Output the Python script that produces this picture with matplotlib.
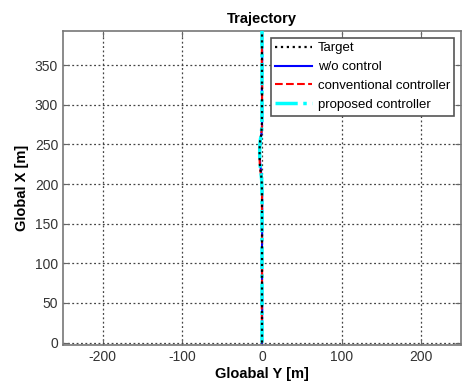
import matplotlib as mpl
import matplotlib.pyplot as plt

mpl.rcParams['font.family'] = ['Liberation Sans', 'DejaVu Sans']
mpl.rcParams['font.size'] = 9.5
mpl.rcParams['axes.unicode_minus'] = False

# Global X [m] samples along the path
path_x = [0, 50, 100, 150, 190, 205, 215, 225, 235, 245, 255, 262, 272, 290, 320, 350, 393]
# lateral position, Global Y [m]
target_y = [0, 0, 0, 0, 0, -0.4, -1.5, -2.6, -3.0, -3.0, -2.3, -1.1, -0.2, 0, 0, 0, 0]
wo_control_y = [0, 0.3, -0.2, 0.3, 0.2, -0.2, -1.1, -2.2, -2.8, -2.7, -2.0, -0.9, 0, 0.3, -0.2, 0.3, 0]
conventional_y = [0, -0.3, 0.3, -0.2, 0, -0.6, -1.8, -2.8, -3.2, -2.9, -2.1, -1.0, -0.1, -0.3, 0.3, -0.3, 0]
proposed_y = [0, 0, 0, 0, 0, -0.4, -1.4, -2.5, -2.9, -2.9, -2.2, -1.0, -0.2, 0, 0, 0, 0]

fig = plt.figure(figsize=(4.62, 3.83), dpi=100)
ax = fig.add_axes([63/462, 1 - 345/383, 398/462, 314/383])

ax.plot(target_y, path_x, ':', color='k', lw=1.6, label='Target', zorder=5)
ax.plot(wo_control_y, path_x, '-', color='b', lw=1.5, label='w/o control', zorder=2)
ax.plot(conventional_y, path_x, '--', color='r', lw=1.5, label='conventional controller', zorder=3)
ax.plot(proposed_y, path_x, '-.', color='cyan', lw=2.5, label='proposed controller', zorder=4)

ax.set_xlim(-250, 250)
ax.set_ylim(-3, 393)
ax.set_xticks([-200, -100, 0, 100, 200])
ax.set_yticks(range(0, 351, 50))
ax.grid(True, ls=(0, (1.5, 2)), color='#444444', lw=0.9)
ax.tick_params(direction='in', top=True, right=True, length=4, colors='#666666', labelcolor='#333333', labelsize=10)
for s in ax.spines.values():
    s.set_color('#777777')
    s.set_linewidth(1.2)

ax.set_title('Trajectory', fontweight='bold', fontsize=10.5, pad=6)
ax.set_xlabel('Gloabal Y [m]', fontweight='bold', fontsize=10.5, labelpad=2)
ax.set_ylabel('Global X [m]', fontweight='bold', fontsize=10.5, labelpad=4)

leg = ax.legend(loc='upper right', fontsize=9.5, handlelength=2.8, fancybox=False,
                framealpha=1, edgecolor='#555555', borderpad=0.35, labelspacing=0.5,
                handletextpad=0.4, borderaxespad=0.5)
leg.get_frame().set_linewidth(1.2)

plt.savefig('out.png', dpi=100)
